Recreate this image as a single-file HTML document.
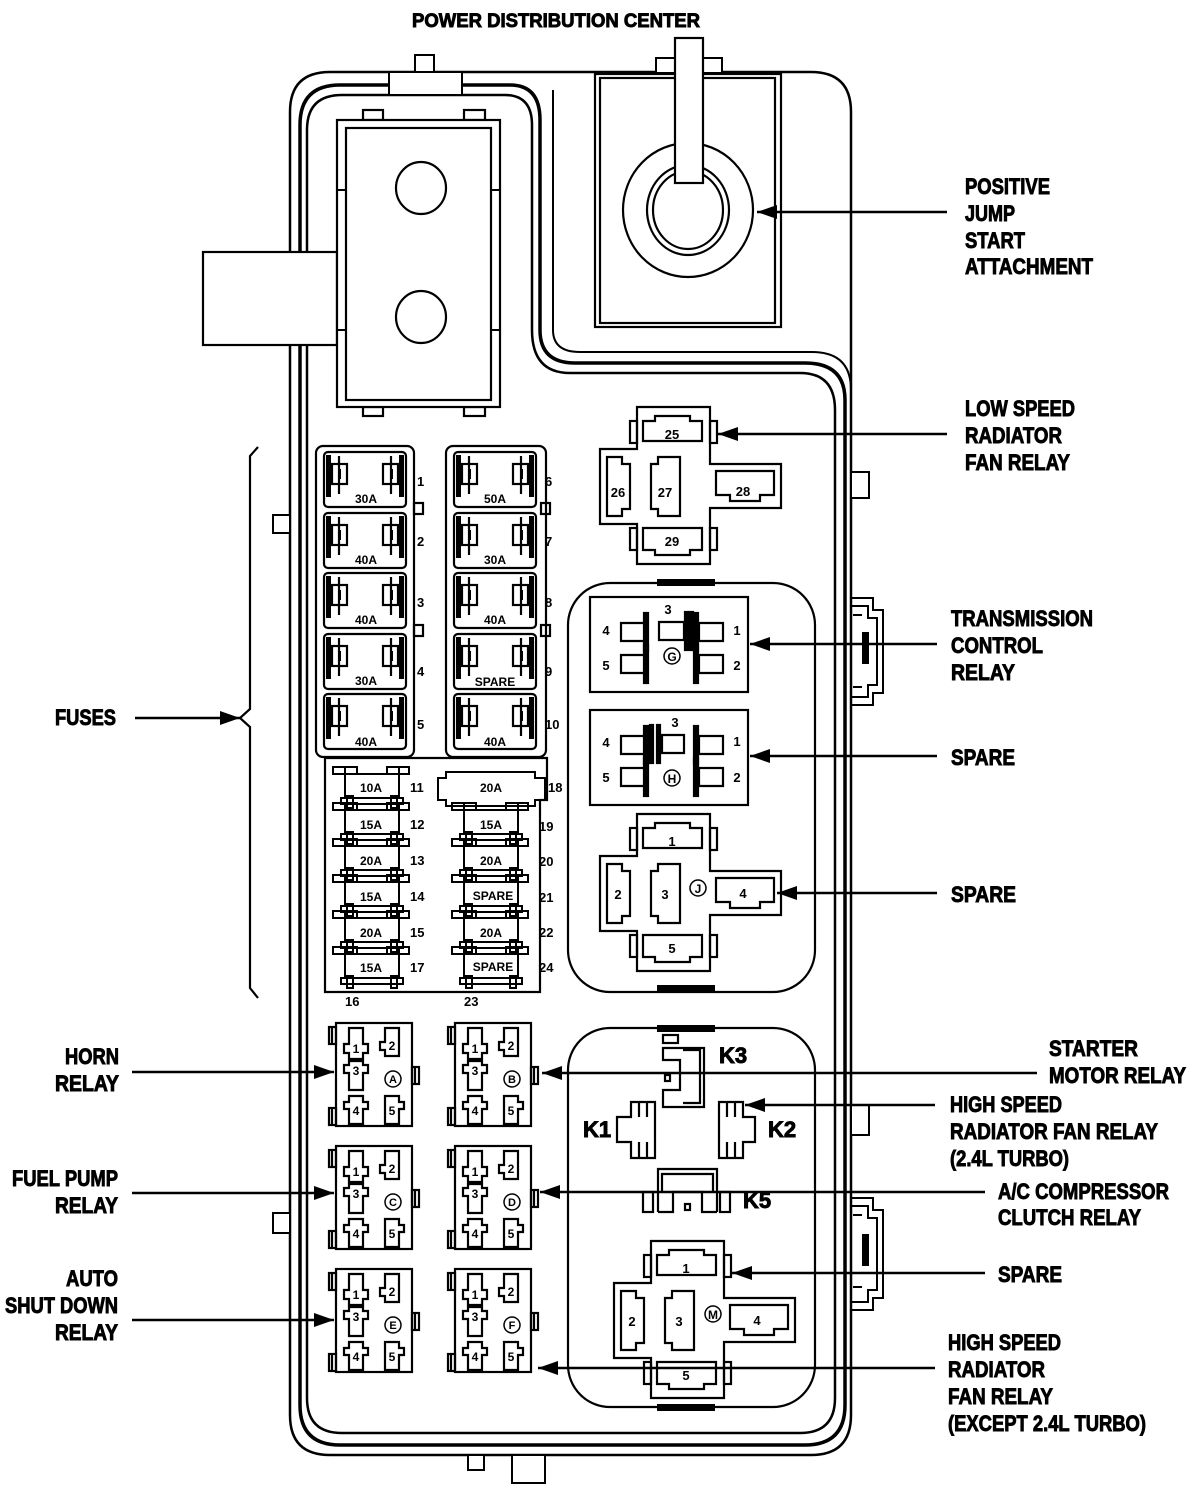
<!DOCTYPE html>
<html><head><meta charset="utf-8"><style>
html,body{margin:0;padding:0;background:#fff}
svg{display:block}
text{font-family:"Liberation Sans",Arial,sans-serif;font-weight:bold;fill:#000}
.L{font-size:22px;stroke:#000;stroke-width:0.9px}
.s{font-size:13px}
.t{font-size:12px}
</style></head><body>
<svg width="1194" height="1493" viewBox="0 0 1194 1493" xmlns="http://www.w3.org/2000/svg">
<defs>
<marker id="ah" viewBox="0 0 20 14" refX="20" refY="7" markerWidth="20" markerHeight="14" markerUnits="userSpaceOnUse" orient="auto"><path d="M0,0 L20,7 L0,14 Z" fill="#000"/></marker>
<g id="bigfuse" fill="none" stroke="#000" stroke-width="2.2">
<rect x="0" y="0" width="82" height="55" rx="4"/>
<rect x="2" y="3" width="5" height="42" fill="#000" stroke="none"/>
<rect x="75" y="3" width="5" height="42" fill="#000" stroke="none"/>
<rect x="8" y="12" width="15" height="20"/>
<line x1="15" y1="4" x2="15" y2="42"/>
<rect x="14" y="17" width="3" height="10" fill="#000" stroke="none"/>
<rect x="59" y="12" width="15" height="20"/>
<line x1="67" y1="4" x2="67" y2="42"/>
<rect x="66" y="17" width="3" height="10" fill="#000" stroke="none"/>
</g>
<g id="mini" fill="none" stroke="#000" stroke-width="2">
<rect x="12" y="-13" width="54" height="24"/>
<rect x="0" y="-20" width="12" height="7"/><rect x="12" y="-20" width="12" height="7"/>
<rect x="54" y="-20" width="12" height="7"/><rect x="66" y="-20" width="10" height="7"/>
<path d="M8,11 H70 V17 H8 Z"/>
<rect x="14" y="9" width="6" height="12"/><rect x="58" y="9" width="6" height="12"/>
</g>
<g id="relay" fill="none" stroke="#000" stroke-width="2.2">
<rect x="0" y="0" width="76" height="103"/>
<rect x="-7" y="4" width="7" height="17"/><line x1="-4" y1="4" x2="-4" y2="21"/>
<rect x="-7" y="85" width="7" height="17"/><line x1="-4" y1="85" x2="-4" y2="102"/>
<rect x="76" y="44" width="7" height="17"/><line x1="79" y1="44" x2="79" y2="61"/>
<path d="M13,5 H27 V21 H32 V30 H27 V36 H13 V30 H8 V21 H13 Z"/>
<path d="M49,5 H63 V33 H49 V27 H44 V19 H49 Z"/>
<path d="M13,38 H27 V42 H32 V50 H27 V67 H13 V50 H8 V42 H13 Z"/>
<path d="M13,73 H27 V79 H32 V86 H27 V101 H13 V86 H8 V79 H13 Z"/>
<path d="M49,73 H63 V79 H68 V86 H63 V101 H49 Z"/>
<circle cx="57" cy="56" r="8" stroke-width="1.5"/>
</g>
<g id="cross" fill="none" stroke="#000" stroke-width="2.2">
<path d="M37,0 H110 V57 H181 V101 H110 V157 H37 V117 H0 V42 H37 Z"/>
<path d="M43,34 V14 H55 V9 H90 V14 H102 V34 Z"/>
<path d="M43,121 H102 V143 H90 V148 H55 V143 H43 Z"/>
<path d="M7,50 H22 V57 H30 V102 H22 V109 H7 Z"/>
<path d="M58,50 H80 V109 H58 V102 H51 V57 H58 Z"/>
<path d="M116,64 H174 V88 H160 V94 H130 V88 H116 Z"/>
<rect x="30" y="14" width="7" height="22"/><rect x="110" y="14" width="7" height="22"/>
<rect x="30" y="121" width="7" height="22"/><rect x="110" y="121" width="7" height="22"/>
</g>
<g id="rbox" fill="none" stroke="#000" stroke-width="2.2">
<rect x="0" y="0" width="158" height="95"/>
<path d="M31,26 H55 V44 H31 Z"/><rect x="54" y="16" width="4" height="38" fill="#000"/>
<path d="M31,58 H55 V76 H31 Z"/><rect x="54" y="48" width="4" height="38" fill="#000"/>
<path d="M133,26 H109 V44 H133 Z"/><rect x="104" y="16" width="4" height="38" fill="#000"/>
<path d="M133,58 H109 V76 H133 Z"/><rect x="104" y="48" width="4" height="38" fill="#000"/>
</g>
</defs>

<g fill="none" stroke="#000" stroke-width="2.5">
<path d="M330,72 H811 Q851,72 851,112 V1415 Q851,1455 811,1455 H330 Q290,1455 290,1415 V112 Q290,72 330,72 Z"/>
<path d="M300,125 Q300,85 340,85 H510 Q540,85 540,120 V330 Q540,363 575,363 H805 Q845,363 845,400 V1405 Q845,1445 805,1445 H340 Q300,1445 300,1405 Z" stroke-width="3.5"/>
<path d="M307,130 Q307,95 342,95 H505 Q532,95 532,125 V330 Q532,373 570,373 H800 Q835,373 835,410 V1398 Q835,1433 800,1433 H342 Q307,1433 307,1398 Z"/>
<path d="M553,90 V330 Q553,352 580,352 H812 Q851,352 851,390" stroke-width="2"/>
</g>
<g fill="#fff" stroke="#000" stroke-width="2">
<rect x="415" y="55" width="19" height="17"/>
<rect x="389" y="72" width="73" height="23"/>
<rect x="656" y="58" width="66" height="15"/>
<rect x="468" y="1455" width="16" height="15"/>
<rect x="512" y="1455" width="33" height="28"/>
<rect x="273" y="515" width="17" height="18"/>
<rect x="273" y="1213" width="17" height="20"/>
<rect x="851" y="472" width="18" height="26"/>
<rect x="851" y="1105" width="18" height="30"/>
</g>
<g fill="none" stroke="#000" stroke-width="2">
<path d="M851,598 H873 V610 H883 V693 H873 V705 H851"/>
<path d="M851,606 H868 V618 H877 V685 H868 V697 H851"/>
<rect x="863" y="633" width="5" height="30" fill="#000"/>
<line x1="853" y1="615" x2="862" y2="615"/><line x1="853" y1="687" x2="862" y2="687"/>
<path d="M851,1198 H873 V1210 H883 V1298 H873 V1310 H851"/>
<path d="M851,1206 H868 V1218 H877 V1290 H868 V1302 H851"/>
<rect x="863" y="1235" width="5" height="30" fill="#000"/>
<line x1="853" y1="1215" x2="862" y2="1215"/><line x1="853" y1="1287" x2="862" y2="1287"/>
</g>

<g fill="#fff" stroke="#000" stroke-width="2.2">
<rect x="203" y="252" width="134" height="93"/>
<rect x="363" y="110" width="20" height="10"/><rect x="464" y="110" width="21" height="10"/>
<rect x="363" y="407" width="20" height="9"/><rect x="464" y="407" width="21" height="9"/>
<rect x="337" y="120" width="163" height="287"/>
<rect x="346" y="128" width="145" height="272"/>
<ellipse cx="421" cy="188" rx="25" ry="26"/>
<ellipse cx="421" cy="317" rx="25" ry="26"/>
</g>
<g stroke="#000" stroke-width="2"><line x1="337" y1="190" x2="346" y2="190"/><line x1="491" y1="190" x2="500" y2="190"/><line x1="337" y1="330" x2="346" y2="330"/><line x1="491" y1="330" x2="500" y2="330"/></g>

<g fill="#fff" stroke="#000" stroke-width="2.2">
<rect x="595" y="74" width="186" height="253"/>
<rect x="600" y="78" width="175" height="245"/>
<ellipse cx="688" cy="210" rx="65" ry="67"/>
<ellipse cx="688" cy="210" rx="41" ry="45"/>
<ellipse cx="688" cy="210" rx="35" ry="39"/>
<rect x="675" y="38" width="28" height="145"/>
</g>

<g fill="none" stroke="#000" stroke-width="2.2">
<rect x="316" y="446" width="98" height="311" rx="7"/>
<rect x="446" y="446" width="100" height="311" rx="7"/>
<path d="M325,758 H547 V800 H540 V992 H325 Z"/>
<rect x="414" y="503" width="9" height="11"/><rect x="414" y="625" width="9" height="11"/>
<rect x="541" y="503" width="9" height="11"/><rect x="541" y="625" width="9" height="11"/>
</g>
<use href="#bigfuse" x="324" y="452"/><use href="#bigfuse" x="324" y="513"/><use href="#bigfuse" x="324" y="573"/><use href="#bigfuse" x="324" y="634"/><use href="#bigfuse" x="324" y="694"/>
<use href="#bigfuse" x="454" y="452"/><use href="#bigfuse" x="454" y="513"/><use href="#bigfuse" x="454" y="573"/><use href="#bigfuse" x="454" y="634"/><use href="#bigfuse" x="454" y="694"/>
<g class="t" text-anchor="middle">
<text x="366" y="503">30A</text><text x="366" y="564">40A</text><text x="366" y="624">40A</text><text x="366" y="685">30A</text><text x="366" y="746">40A</text>
<text x="495" y="503">50A</text><text x="495" y="564">30A</text><text x="495" y="624">40A</text><text x="495" y="686">SPARE</text><text x="495" y="746">40A</text>
</g>
<g class="s">
<text x="417" y="486">1</text><text x="417" y="546">2</text><text x="417" y="607">3</text><text x="417" y="676">4</text><text x="417" y="729">5</text>
<text x="545" y="486">6</text><text x="545" y="546">7</text><text x="545" y="607">8</text><text x="545" y="676">9</text><text x="545" y="729">10</text>
</g>

<use href="#mini" x="333" y="787"/><use href="#mini" x="333" y="823"/><use href="#mini" x="333" y="859"/><use href="#mini" x="333" y="895"/><use href="#mini" x="333" y="931"/><use href="#mini" x="333" y="967"/>
<use href="#mini" x="452" y="823"/><use href="#mini" x="452" y="859"/><use href="#mini" x="452" y="895"/><use href="#mini" x="452" y="931"/><use href="#mini" x="452" y="967"/>
<path d="M438,778 H446 V772 H535 V778 H545 V800 H535 V806 H446 V800 H438 Z" fill="none" stroke="#000" stroke-width="2"/>
<g class="t" text-anchor="middle">
<text x="371" y="792">10A</text><text x="371" y="829">15A</text><text x="371" y="865">20A</text><text x="371" y="901">15A</text><text x="371" y="937">20A</text><text x="371" y="972">15A</text>
<text x="491" y="792">20A</text><text x="491" y="829">15A</text><text x="491" y="865">20A</text><text x="493" y="900">SPARE</text><text x="491" y="937">20A</text><text x="493" y="971">SPARE</text>
</g>
<g class="s">
<text x="410" y="792">11</text><text x="410" y="829">12</text><text x="410" y="865">13</text><text x="410" y="901">14</text><text x="410" y="937">15</text><text x="410" y="972">17</text>
<text x="548" y="792">18</text><text x="539" y="831">19</text><text x="539" y="866">20</text><text x="539" y="902">21</text><text x="539" y="937">22</text><text x="539" y="972">24</text>
<text x="345" y="1006">16</text><text x="464" y="1006">23</text>
</g>

<use href="#relay" x="336" y="1023"/><use href="#relay" x="455" y="1023"/>
<use href="#relay" x="336" y="1146"/><use href="#relay" x="455" y="1146"/>
<use href="#relay" x="336" y="1269"/><use href="#relay" x="455" y="1269"/>
<g class="t" text-anchor="middle">
<text x="356" y="1053">1</text><text x="392" y="1050">2</text><text x="356" y="1075">3</text><text x="356" y="1115">4</text><text x="392" y="1115">5</text><text x="393" y="1083" font-size="11">A</text>
<text x="475" y="1053">1</text><text x="511" y="1050">2</text><text x="475" y="1075">3</text><text x="475" y="1115">4</text><text x="511" y="1115">5</text><text x="512" y="1083" font-size="11">B</text>
<text x="356" y="1176">1</text><text x="392" y="1173">2</text><text x="356" y="1198">3</text><text x="356" y="1238">4</text><text x="392" y="1238">5</text><text x="393" y="1206" font-size="11">C</text>
<text x="475" y="1176">1</text><text x="511" y="1173">2</text><text x="475" y="1198">3</text><text x="475" y="1238">4</text><text x="511" y="1238">5</text><text x="512" y="1206" font-size="11">D</text>
<text x="356" y="1299">1</text><text x="392" y="1296">2</text><text x="356" y="1321">3</text><text x="356" y="1361">4</text><text x="392" y="1361">5</text><text x="393" y="1329" font-size="11">E</text>
<text x="475" y="1299">1</text><text x="511" y="1296">2</text><text x="475" y="1321">3</text><text x="475" y="1361">4</text><text x="511" y="1361">5</text><text x="512" y="1329" font-size="11">F</text>
</g>

<use href="#cross" x="600" y="407"/>
<g class="s" text-anchor="middle">
<text x="672" y="439">25</text><text x="618" y="497">26</text><text x="665" y="497">27</text><text x="743" y="496">28</text><text x="672" y="546">29</text>
</g>

<rect x="568" y="583" width="247" height="409" rx="42" fill="none" stroke="#000" stroke-width="2.2"/>
<rect x="657" y="579" width="58" height="7" fill="#000"/><rect x="657" y="985" width="58" height="7" fill="#000"/>
<use href="#rbox" x="590" y="597"/><use href="#rbox" x="590" y="710"/>
<g fill="#fff" stroke="#000" stroke-width="2.2">
<path d="M659,622 H684 V640 H659 Z"/><rect x="685" y="612" width="3" height="38" fill="#000"/><rect x="690" y="612" width="3" height="38" fill="#000"/>
<path d="M662,735 H684 V753 H662 Z"/><rect x="657" y="725" width="3" height="38" fill="#000"/><rect x="650" y="725" width="3" height="38" fill="#000"/>
</g>
<g class="s" text-anchor="middle">
<text x="606" y="635">4</text><text x="606" y="670">5</text><text x="737" y="635">1</text><text x="737" y="670">2</text><text x="668" y="614">3</text>
<text x="606" y="747">4</text><text x="606" y="782">5</text><text x="737" y="746">1</text><text x="737" y="782">2</text><text x="675" y="727">3</text>
</g>
<circle cx="672" cy="656" r="8" fill="none" stroke="#000" stroke-width="1.5"/><text x="672" y="661" class="t" text-anchor="middle" font-size="11">G</text>
<circle cx="672" cy="778" r="8" fill="none" stroke="#000" stroke-width="1.5"/><text x="672" y="783" class="t" text-anchor="middle" font-size="11">H</text>
<use href="#cross" x="600" y="814"/>
<g class="s" text-anchor="middle">
<text x="672" y="846">1</text><text x="618" y="899">2</text><text x="665" y="899">3</text><text x="743" y="898">4</text><text x="672" y="953">5</text>
</g>
<circle cx="698" cy="888" r="8" fill="none" stroke="#000" stroke-width="1.5"/><text x="698" y="893" class="t" text-anchor="middle" font-size="11">J</text>

<rect x="568" y="1028" width="247" height="379" rx="42" fill="none" stroke="#000" stroke-width="2.2"/>
<rect x="657" y="1025" width="58" height="7" fill="#000"/><rect x="657" y="1404" width="58" height="7" fill="#000"/>
<g fill="none" stroke="#000" stroke-width="2.2">
<rect x="663" y="1035" width="15" height="8"/>
<path d="M663,1048 H704 V1107 H663 V1090 H680 V1060 H663 Z"/>
<path d="M683,1050 H700 V1103 H683"/>
<rect x="665" y="1075" width="5" height="6"/>
<path d="M631,1102 H655 V1158 H631 V1142 H617 V1117 H631 Z"/>
<line x1="639" y1="1102" x2="639" y2="1117"/><line x1="647" y1="1102" x2="647" y2="1117"/><line x1="639" y1="1142" x2="639" y2="1158"/><line x1="647" y1="1142" x2="647" y2="1158"/>
<path d="M719,1102 H743 V1117 H755 V1142 H743 V1158 H719 Z"/>
<line x1="727" y1="1102" x2="727" y2="1117"/><line x1="735" y1="1102" x2="735" y2="1117"/><line x1="727" y1="1142" x2="727" y2="1158"/><line x1="735" y1="1142" x2="735" y2="1158"/>
<path d="M658,1212 V1169 H717 V1212"/><path d="M662,1192 V1174 H713 V1192"/>
<path d="M658,1212 H673 V1192 H702 V1212 H717"/>
<rect x="643" y="1192" width="10" height="20"/><rect x="720" y="1192" width="10" height="20"/>
<rect x="685" y="1204" width="5" height="6"/>
</g>
<g class="L" font-size="18">
<text x="719" y="1063">K3</text><text x="583" y="1137">K1</text><text x="768" y="1137">K2</text><text x="743" y="1208">K5</text>
</g>
<use href="#cross" x="614" y="1241"/>
<g class="s" text-anchor="middle">
<text x="686" y="1273">1</text><text x="632" y="1326">2</text><text x="679" y="1326">3</text><text x="757" y="1325">4</text><text x="686" y="1380">5</text>
</g>
<circle cx="713" cy="1314" r="8" fill="none" stroke="#000" stroke-width="1.5"/><text x="713" y="1319" class="t" text-anchor="middle" font-size="10">M</text>

<path d="M258,447 L250,456 V709 L240,718 L250,727 V988 L258,998" fill="none" stroke="#000" stroke-width="2.2"/>

<g stroke="#000" stroke-width="2.5" marker-end="url(#ah)">
<line x1="947" y1="212" x2="757" y2="212"/>
<line x1="947" y1="434" x2="718" y2="434"/>
<line x1="937" y1="644" x2="750" y2="644"/>
<line x1="937" y1="756" x2="750" y2="756"/>
<line x1="937" y1="893" x2="777" y2="893"/>
<line x1="1037" y1="1073" x2="542" y2="1073"/>
<line x1="935" y1="1105" x2="745" y2="1105"/>
<line x1="985" y1="1192" x2="540" y2="1192"/>
<line x1="985" y1="1273" x2="732" y2="1273"/>
<line x1="935" y1="1368" x2="538" y2="1368"/>
<line x1="132" y1="1072" x2="334" y2="1072"/>
<line x1="132" y1="1193" x2="334" y2="1193"/>
<line x1="132" y1="1320" x2="334" y2="1320"/>
<line x1="135" y1="718" x2="240" y2="718"/>
</g>

<g class="L">
<text x="412" y="27" font-size="19" textLength="288" lengthAdjust="spacingAndGlyphs">POWER DISTRIBUTION CENTER</text>
<text x="965" y="194" textLength="85" lengthAdjust="spacingAndGlyphs">POSITIVE</text>
<text x="965" y="221" textLength="50" lengthAdjust="spacingAndGlyphs">JUMP</text>
<text x="965" y="248" textLength="60" lengthAdjust="spacingAndGlyphs">START</text>
<text x="965" y="274" textLength="128" lengthAdjust="spacingAndGlyphs">ATTACHMENT</text>
<text x="965" y="416" textLength="110" lengthAdjust="spacingAndGlyphs">LOW SPEED</text>
<text x="965" y="443" textLength="97" lengthAdjust="spacingAndGlyphs">RADIATOR</text>
<text x="965" y="470" textLength="105" lengthAdjust="spacingAndGlyphs">FAN RELAY</text>
<text x="951" y="626" textLength="142" lengthAdjust="spacingAndGlyphs">TRANSMISSION</text>
<text x="951" y="653" textLength="92" lengthAdjust="spacingAndGlyphs">CONTROL</text>
<text x="951" y="680" textLength="64" lengthAdjust="spacingAndGlyphs">RELAY</text>
<text x="951" y="765" textLength="64" lengthAdjust="spacingAndGlyphs">SPARE</text>
<text x="951" y="902" textLength="65" lengthAdjust="spacingAndGlyphs">SPARE</text>
<text x="1049" y="1056" textLength="89" lengthAdjust="spacingAndGlyphs">STARTER</text>
<text x="1049" y="1083" textLength="137" lengthAdjust="spacingAndGlyphs">MOTOR RELAY</text>
<text x="950" y="1112" textLength="112" lengthAdjust="spacingAndGlyphs">HIGH SPEED</text>
<text x="950" y="1139" textLength="208" lengthAdjust="spacingAndGlyphs">RADIATOR FAN RELAY</text>
<text x="950" y="1166" textLength="119" lengthAdjust="spacingAndGlyphs">(2.4L TURBO)</text>
<text x="998" y="1199" textLength="171" lengthAdjust="spacingAndGlyphs">A/C COMPRESSOR</text>
<text x="998" y="1225" textLength="143" lengthAdjust="spacingAndGlyphs">CLUTCH RELAY</text>
<text x="998" y="1282" textLength="64" lengthAdjust="spacingAndGlyphs">SPARE</text>
<text x="948" y="1350" textLength="113" lengthAdjust="spacingAndGlyphs">HIGH SPEED</text>
<text x="948" y="1377" textLength="97" lengthAdjust="spacingAndGlyphs">RADIATOR</text>
<text x="948" y="1404" textLength="105" lengthAdjust="spacingAndGlyphs">FAN RELAY</text>
<text x="948" y="1431" textLength="198" lengthAdjust="spacingAndGlyphs">(EXCEPT 2.4L TURBO)</text>
<text x="55" y="725" textLength="61" lengthAdjust="spacingAndGlyphs">FUSES</text>
<text x="65" y="1064" textLength="54" lengthAdjust="spacingAndGlyphs">HORN</text>
<text x="55" y="1091" textLength="64" lengthAdjust="spacingAndGlyphs">RELAY</text>
<text x="12" y="1186" textLength="106" lengthAdjust="spacingAndGlyphs">FUEL PUMP</text>
<text x="55" y="1213" textLength="63" lengthAdjust="spacingAndGlyphs">RELAY</text>
<text x="66" y="1286" textLength="52" lengthAdjust="spacingAndGlyphs">AUTO</text>
<text x="5" y="1313" textLength="113" lengthAdjust="spacingAndGlyphs">SHUT DOWN</text>
<text x="55" y="1340" textLength="63" lengthAdjust="spacingAndGlyphs">RELAY</text>
</g>
</svg>
</body></html>
